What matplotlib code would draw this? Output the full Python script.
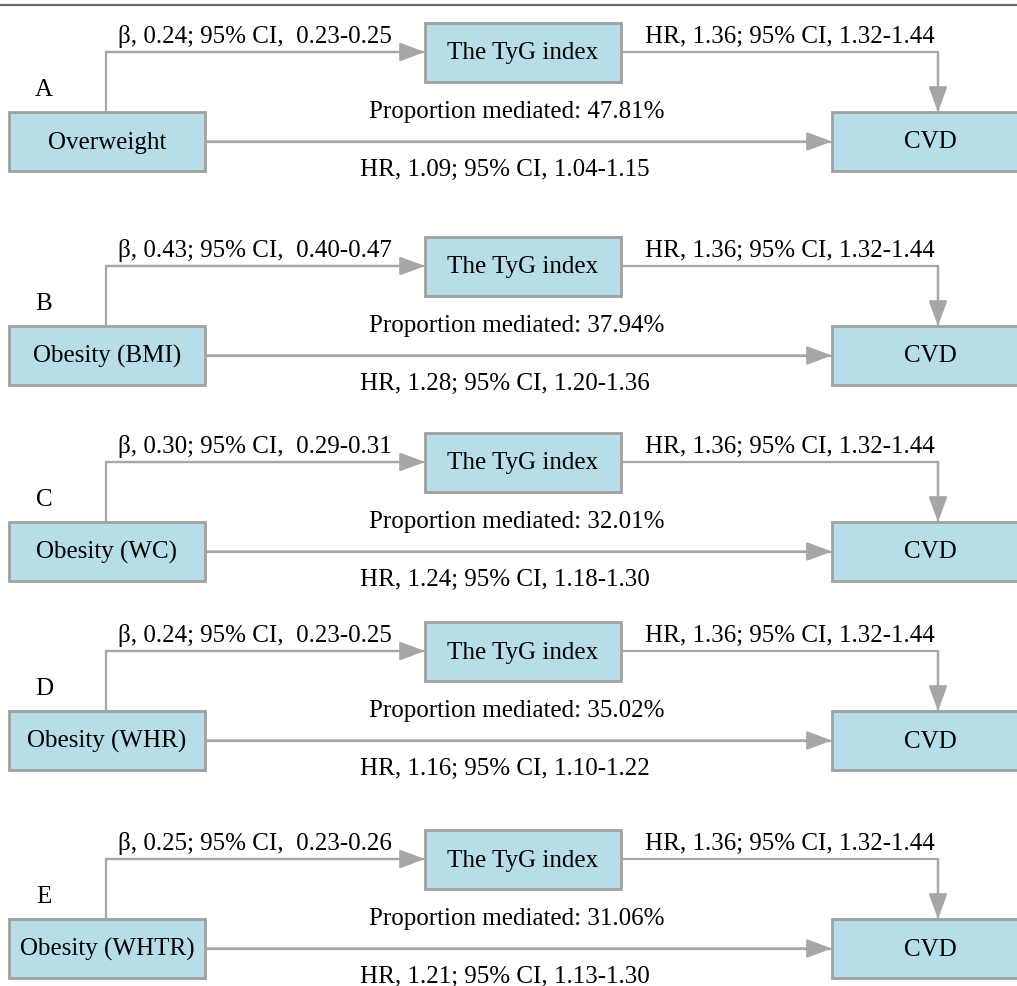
import matplotlib.pyplot as plt
from matplotlib.patches import Rectangle

# mediation results per exposure
panel_labels = ['A', 'B', 'C', 'D', 'E']
exposures = ['Overweight', 'Obesity (BMI)', 'Obesity (WC)', 'Obesity (WHR)', 'Obesity (WHTR)']
beta = [0.24, 0.43, 0.30, 0.24, 0.25]
beta_lo = [0.23, 0.40, 0.29, 0.23, 0.23]
beta_hi = [0.25, 0.47, 0.31, 0.25, 0.26]
tyg_hr, tyg_lo, tyg_hi = 1.36, 1.32, 1.44
prop_mediated = [47.81, 37.94, 32.01, 35.02, 31.06]
direct_hr = [1.09, 1.28, 1.24, 1.16, 1.21]
direct_lo = [1.04, 1.20, 1.18, 1.10, 1.13]
direct_hi = [1.15, 1.36, 1.30, 1.22, 1.30]

mediator = 'The TyG index'
outcome = 'CVD'

# layout (pixel units, y down)
panel_top = [23, 237, 433, 622, 830]
W, H = 1017, 986
box_w, box_h = 196, 59
left_x, mid_x, right_x = 9, 425, 832

box_fc = '#b7dde8'
box_ec = '#a0a0a0'
line_c = '#a6a6a6'
fs = 18

plt.rcParams['font.family'] = ['Liberation Serif', 'DejaVu Serif']

fig = plt.figure(figsize=(W / 100, H / 100), dpi=100)
ax = fig.add_axes([0, 0, 1, 1])
ax.set_xlim(0, W)
ax.set_ylim(H, 0)
ax.axis('off')

ax.plot([0, W], [5, 5], color='#6a6a6a', lw=1.6)


def box(x, y, text):
    ax.add_patch(Rectangle((x, y), box_w, box_h, fc=box_fc, ec=box_ec, lw=2))
    ax.text(x + box_w / 2, y + box_h / 2 + 1, text, ha='center', va='center', fontsize=fs)


def path(xs, ys):
    # connector polyline, arrowhead on the last point
    ax.plot(xs, ys, color=line_c, lw=1.6, solid_joinstyle='miter', solid_capstyle='butt')
    ax.annotate('', xy=(xs[-1], ys[-1]), xytext=(xs[-2], ys[-2]),
                arrowprops=dict(arrowstyle='-|>,head_length=1.0,head_width=0.37',
                                mutation_scale=15.5, color=line_c, lw=1.6,
                                shrinkA=0, shrinkB=0))


for i, t in enumerate(panel_top):
    ly = t + 89  # top of exposure / outcome boxes
    hy = t + 29  # path a / b line
    dy = ly + box_h / 2

    box(mid_x, t, mediator)
    box(left_x, ly, exposures[i])
    box(right_x, ly, outcome)

    ax.text(44, t + 67, panel_labels[i], ha='center', va='center', fontsize=fs)

    # exposure -> mediator
    vx = left_x + box_w / 2 - 1
    path([vx, vx, mid_x], [ly, hy, hy])
    ax.text(118, hy - 4, f'\u03b2, {beta[i]:.2f}; 95% CI,  {beta_lo[i]:.2f}-{beta_hi[i]:.2f}',
            ha='left', va='bottom', fontsize=fs)

    # mediator -> outcome
    cx = right_x + 106
    path([mid_x + box_w, cx, cx], [hy, hy, ly])
    ax.text(790, hy - 4, f'HR, {tyg_hr:.2f}; 95% CI, {tyg_lo:.2f}-{tyg_hi:.2f}',
            ha='center', va='bottom', fontsize=fs)

    # direct path
    path([left_x + box_w, right_x], [dy, dy])
    ax.text(517, t + 89, f'Proportion mediated: {prop_mediated[i]:.2f}%',
            ha='center', va='center', fontsize=fs)
    ax.text(505, t + 147, f'HR, {direct_hr[i]:.2f}; 95% CI, {direct_lo[i]:.2f}-{direct_hi[i]:.2f}',
            ha='center', va='center', fontsize=fs)

fig.savefig('out.png', dpi=100)
